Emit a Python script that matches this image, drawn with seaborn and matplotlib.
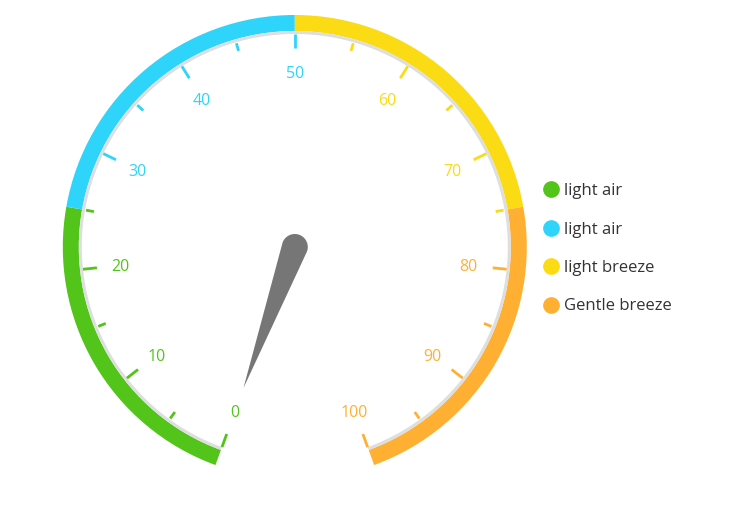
import numpy as np
import matplotlib
matplotlib.use("Agg")
import matplotlib.pyplot as plt
from matplotlib.patches import Wedge, Polygon
from matplotlib.lines import Line2D
import seaborn as sns

# ---- data ----
seg_edges = [0, 25, 50, 75, 100]
seg_labels = ["light air", "light air", "light breeze", "Gentle breeze"]
seg_colors = ["#52C41A", "#2FD4FB", "#FADB14", "#FFB033"]
major_ticks = list(range(0, 101, 10))
minor_ticks = list(range(5, 100, 10))
pointer_value = 0

# ---- style ----
sns.set_theme(style="white")
plt.rcParams['font.family'] = ['Open Sans', 'DejaVu Sans']

W, H = 735, 515
fig = plt.figure(figsize=(W / 100, H / 100), dpi=100)
ax = fig.add_axes([0, 0, 1, 1])
ax.set_xlim(0, W)
ax.set_ylim(0, H)
ax.axis("off")

cx, cy = 294.8, H - 247
R_OUT, BAND = 232, 16
START, SWEEP = 250.0, 320.0


def ang(v):
    return START - v / 100.0 * SWEEP


def col(v):
    for i in range(len(seg_colors)):
        if v <= seg_edges[i + 1]:
            return seg_colors[i]
    return seg_colors[-1]


# colour band
for i, c in enumerate(seg_colors):
    a, b = seg_edges[i], seg_edges[i + 1]
    ax.add_patch(Wedge((cx, cy), R_OUT, ang(b), ang(a), width=BAND,
                       facecolor=c, edgecolor="none"))

# thin grey ring inside the band
ax.add_patch(Wedge((cx, cy), R_OUT - BAND, ang(100), ang(0), width=3,
                   facecolor="#DEDEDE", edgecolor="none"))

# ticks + labels
for v in major_ticks:
    t = np.radians(ang(v))
    r0, r1 = 199, 213
    ax.plot([cx + r0 * np.cos(t), cx + r1 * np.cos(t)],
            [cy + r0 * np.sin(t), cy + r1 * np.sin(t)],
            color=col(v), lw=2.0, solid_capstyle="butt")
    rl = 175
    ax.text(cx + rl * np.cos(t), cy + rl * np.sin(t) - 2, str(v),
            color=col(v), fontsize=11.5, ha="center", va="center")

for v in minor_ticks:
    t = np.radians(ang(v))
    r0, r1 = 204, 212
    ax.plot([cx + r0 * np.cos(t), cx + r1 * np.cos(t)],
            [cy + r0 * np.sin(t), cy + r1 * np.sin(t)],
            color=col(v), lw=2.0, solid_capstyle="butt")

# pointer
t = np.radians(ang(pointer_value))
L, hw = 150, 13
tip = (cx + L * np.cos(t), cy + L * np.sin(t))
back = np.linspace(t + np.pi / 2, t + 3 * np.pi / 2, 30)
pts = [tip] + [(cx + hw * np.cos(a), cy + hw * np.sin(a)) for a in back]
ax.add_patch(Polygon(pts, closed=True, facecolor="#767676", edgecolor="none"))

# legend
handles = [Line2D([0], [0], marker="o", linestyle="none", markersize=11,
                  markerfacecolor=c, markeredgecolor=c) for c in seg_colors]
fig.legend(handles, seg_labels, loc="upper left",
           bbox_to_anchor=(526 / W, 1 - 168 / H), frameon=False,
           fontsize=12, labelspacing=1.35, handletextpad=0.15,
           handlelength=1.2, labelcolor="#333333")

fig.savefig("out.png", dpi=100)
